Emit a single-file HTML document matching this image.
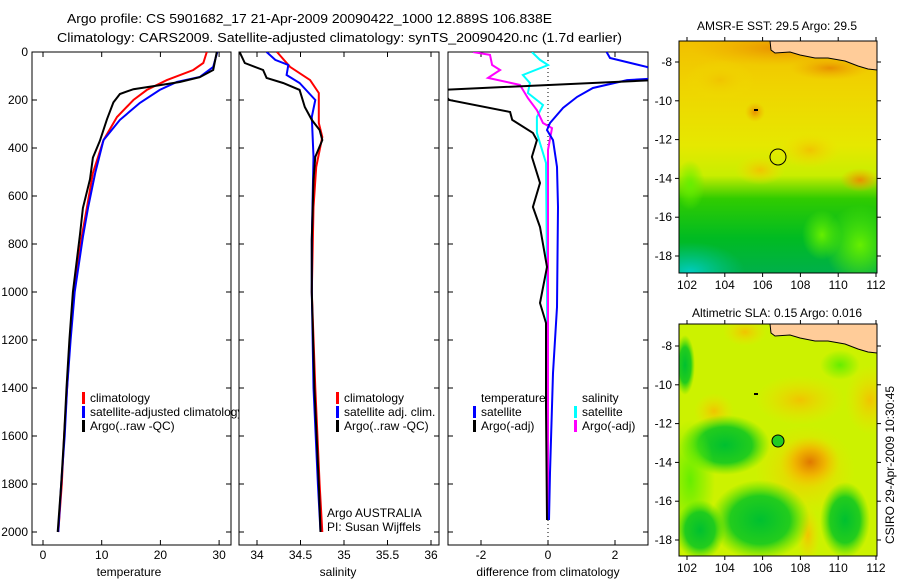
<!DOCTYPE html>
<html><head><meta charset="utf-8">
<style>
html,body{margin:0;padding:0;background:#fff;}
svg{display:block;font-family:"Liberation Sans",sans-serif;}
</style></head>
<body>
<svg id="fig" width="900" height="580" viewBox="0 0 900 580" xmlns="http://www.w3.org/2000/svg">
<defs>
  <clipPath id="c1"><rect x="32" y="52" width="199" height="493"/></clipPath>
  <clipPath id="c2"><rect x="239" y="52" width="200" height="493"/></clipPath>
  <clipPath id="c3"><rect x="448" y="52" width="200" height="494"/></clipPath>
  <clipPath id="cl1"><rect x="32" y="52" width="207" height="493"/></clipPath>
  <clipPath id="cm1"><rect x="679" y="41" width="198" height="232"/></clipPath>
  <clipPath id="cm2"><rect x="679" y="324" width="198" height="232"/></clipPath>
  <linearGradient id="sstbase" x1="0" y1="0" x2="0" y2="1">
    <stop offset="0" stop-color="#f2c000"/>
    <stop offset="0.2" stop-color="#efd400"/>
    <stop offset="0.45" stop-color="#e6e800"/>
    <stop offset="0.58" stop-color="#c8ee00"/>
    <stop offset="0.68" stop-color="#30cc00"/>
    <stop offset="0.85" stop-color="#00bb22"/>
    <stop offset="1" stop-color="#00b04a"/>
  </linearGradient>
  <radialGradient id="gcyan"><stop offset="0" stop-color="#00ccc0"/><stop offset="1" stop-color="#00c890" stop-opacity="0"/></radialGradient>
  <radialGradient id="glime"><stop offset="0" stop-color="#66ee00"/><stop offset="1" stop-color="#66ee00" stop-opacity="0"/></radialGradient>
  <radialGradient id="ggreen"><stop offset="0" stop-color="#00c030"/><stop offset="0.6" stop-color="#10c820" stop-opacity="0.9"/><stop offset="1" stop-color="#40dd00" stop-opacity="0"/></radialGradient>
  <radialGradient id="gorange"><stop offset="0" stop-color="#e07800"/><stop offset="0.5" stop-color="#f0b000" stop-opacity="0.9"/><stop offset="1" stop-color="#f0d000" stop-opacity="0"/></radialGradient>
  <radialGradient id="gyell"><stop offset="0" stop-color="#f0c400"/><stop offset="1" stop-color="#eee000" stop-opacity="0"/></radialGradient>
  <radialGradient id="gor2"><stop offset="0" stop-color="#e89000"/><stop offset="1" stop-color="#f0b000" stop-opacity="0"/></radialGradient>
</defs>

<text x="67" y="23" font-size="13" textLength="485" lengthAdjust="spacingAndGlyphs">Argo profile: CS 5901682_17 21-Apr-2009 20090422_1000 12.889S 106.838E</text>
<text x="57" y="42" font-size="13" textLength="565" lengthAdjust="spacingAndGlyphs">Climatology: CARS2009. Satellite-adjusted climatology: synTS_20090420.nc (1.7d earlier)</text>

<g id="panels"></g>

<!-- SST map -->
<g>
  <text x="777" y="30" font-size="12" text-anchor="middle">AMSR-E SST: 29.5 Argo: 29.5</text>
  <g clip-path="url(#cm1)">
    <rect x="679" y="41" width="198" height="232" fill="url(#sstbase)"/>
    <ellipse cx="690" cy="272" rx="55" ry="30" fill="url(#gcyan)"/>
    <ellipse cx="860" cy="245" rx="35" ry="40" fill="url(#glime)"/>
    <ellipse cx="822" cy="235" rx="20" ry="25" fill="url(#glime)"/>
    <ellipse cx="690" cy="185" rx="15" ry="25" fill="url(#glime)"/>
    <ellipse cx="780" cy="48" rx="90" ry="18" fill="url(#gor2)"/>
    <ellipse cx="830" cy="68" rx="40" ry="12" fill="url(#gor2)"/>
    <ellipse cx="860" cy="180" rx="20" ry="12" fill="url(#gor2)"/>
    <ellipse cx="720" cy="80" rx="35" ry="20" fill="url(#gyell)"/>
    <ellipse cx="755" cy="112" rx="10" ry="10" fill="url(#gor2)"/>
    <ellipse cx="760" cy="170" rx="25" ry="15" fill="url(#gyell)"/>
    <ellipse cx="810" cy="150" rx="30" ry="18" fill="url(#gyell)"/>
    <polygon points="770,41 771,50 775,53 790,52 800,55 815,58 828,58 845,61 858,66 868,69 877,70 877,41" fill="#ffcc99" stroke="#000" stroke-width="1"/>
    <rect x="754" y="109" width="4" height="2" fill="#000"/>
  </g>
  <rect x="679" y="41" width="198" height="232" fill="none" stroke="#000" stroke-width="1"/>
  <circle cx="778" cy="157" r="8" fill="none" stroke="#000" stroke-width="1"/>
  <g id="sstaxes"></g>
</g>

<!-- SLA map -->
<g>
  <text x="777" y="317" font-size="12" text-anchor="middle">Altimetric SLA: 0.15 Argo: 0.016</text>
  <g clip-path="url(#cm2)">
    <rect x="679" y="324" width="198" height="232" fill="#ccf200"/>
    <ellipse cx="745" cy="332" rx="22" ry="14" fill="url(#gyell)"/>
    <ellipse cx="714" cy="411" rx="20" ry="18" fill="url(#gyell)"/>
    <ellipse cx="800" cy="400" rx="45" ry="25" fill="url(#gyell)"/>
    <ellipse cx="870" cy="400" rx="25" ry="35" fill="url(#gyell)"/>
    <ellipse cx="805" cy="470" rx="50" ry="45" fill="url(#gyell)"/>
    <ellipse cx="810" cy="462" rx="30" ry="26" fill="url(#gorange)"/>
    <ellipse cx="808" cy="535" rx="12" ry="30" fill="url(#gyell)"/>
    <ellipse cx="725" cy="445" rx="45" ry="30" fill="url(#ggreen)"/>
    <ellipse cx="690" cy="480" rx="25" ry="60" fill="url(#glime)"/>
    <ellipse cx="760" cy="520" rx="50" ry="40" fill="url(#ggreen)"/>
    <ellipse cx="700" cy="530" rx="25" ry="30" fill="url(#ggreen)"/>
    <ellipse cx="845" cy="520" rx="25" ry="38" fill="url(#ggreen)"/>
    <ellipse cx="685" cy="365" rx="10" ry="30" fill="url(#ggreen)"/>
    <ellipse cx="840" cy="365" rx="20" ry="15" fill="url(#glime)"/>
    <polygon points="770,324 771,333 775,336 790,335 800,338 815,341 828,341 845,344 858,349 868,352 877,353 877,324" fill="#ffcc99" stroke="#000" stroke-width="1"/>
    <rect x="754" y="393" width="4" height="2" fill="#000"/>
  </g>
  <rect x="679" y="324" width="198" height="232" fill="none" stroke="#000" stroke-width="1"/>
  <circle cx="778" cy="441" r="6" fill="#22cc22" stroke="#000" stroke-width="1"/>
  <g id="slaaxes"></g>
</g>
<text x="0" y="0" font-size="12" text-anchor="middle" transform="translate(894,465) rotate(-90)">CSIRO 29-Apr-2009 10:30:45</text>
</svg>

<script>
// ---- data ----
const tempDepth = [0, 50, 75, 105, 125, 140, 155, 175, 210, 280, 370, 440, 530, 650, 760, 1000, 1200, 1400, 1600, 1800, 2000];
const tempArgo  = [29.6, 29.2, 29.0, 26.7, 23.3, 19.4, 15.4, 13.1, 12.0, 10.9, 9.7, 8.5, 8.0, 6.8, 6.3, 5.1, 4.5, 4.0, 3.6, 3.1, 2.5];
const tempClimDepth = [0, 46, 75, 117, 158, 200, 271, 367, 504, 646, 771, 1000, 1200, 1400, 1600, 1800, 2000];
const tempClim  = [27.9, 27.3, 25.6, 21.1, 17.7, 15.4, 12.6, 10.3, 8.5, 7.5, 6.6, 5.3, 4.6, 4.1, 3.6, 3.2, 2.6];
const tempSat   = [29.7, 29.0, 26.7, 22.8, 19.9, 16.5, 13.1, 10.3, 8.9, 7.7, 6.8, 5.4, 4.7, 4.1, 3.7, 3.1, 2.6];
const tempSatDepth = [0, 62, 104, 125, 158, 212, 283, 367, 504, 646, 771, 1000, 1200, 1400, 1600, 1800, 2000];

const salArgoDepth = [0, 46, 75, 108, 129, 158, 229, 283, 325, 367, 437, 533, 783, 1000, 1400, 1800, 2000];
const salArgo = [33.80, 33.86, 34.07, 34.11, 34.30, 34.49, 34.55, 34.63, 34.72, 34.75, 34.67, 34.65, 34.63, 34.63, 34.66, 34.71, 34.73];
const salClimDepth = [0, 62, 117, 171, 296, 354, 479, 646, 1000, 1400, 1800, 2000];
const salClim = [34.23, 34.38, 34.61, 34.71, 34.71, 34.75, 34.68, 34.65, 34.63, 34.67, 34.72, 34.75];
const salSatDepth = [0, 33, 54, 96, 129, 200, 271, 437, 783, 1000, 1400, 1800, 2000];
const salSat = [34.11, 34.21, 34.36, 34.34, 34.49, 34.67, 34.63, 34.65, 34.63, 34.63, 34.65, 34.70, 34.73];

const dTSatDepth = [0, 25, 62, 108, 117, 150, 187, 233, 296, 325, 367, 479, 646, 1063, 1338, 1754, 1950];
const dTSat = [1.75, 1.85, 2.95, 3.5, 2.36, 1.34, 0.87, 0.45, 0.06, -0.03, 0.15, 0.27, 0.30, 0.27, 0.15, 0.06, 0.03];
const dTArgoDepth = [0, 100, 117, 158, 200, 250, 283, 337, 367, 437, 546, 646, 729, 896, 1046, 1129, 1479, 1950];
const dTArgo = [4.0, 4.0, 3.2, -3.2, -2.95, -1.13, -1.07, -0.45, -0.33, -0.48, -0.24, -0.45, -0.24, -0.03, -0.24, -0.06, -0.06, -0.03];
const dSSatDepth = [0, 33, 54, 96, 129, 171, 221, 271, 337, 462, 921, 1950];
const dSSat = [-0.48, -0.24, 0.0, -0.75, -0.54, -0.60, -0.15, -0.33, -0.33, -0.06, -0.03, -0.02];
const dSArgoDepth = [0, 12, 54, 75, 108, 137, 192, 242, 296, 317, 408, 783, 1950];
const dSArgo = [-2.24, -1.73, -1.67, -1.43, -1.79, -0.84, -0.60, -0.33, -0.15, 0.12, 0.0, 0.0, 0.0];

const depthTicks = [0, 200, 400, 600, 800, 1000, 1200, 1400, 1600, 1800, 2000];
const tempTicks = [0, 10, 20, 30];
const salTicks = [34, 34.5, 35, 35.5, 36];
const salTickLabels = ["34", "34.5", "35", "35.5", "36"];
const diffTicks = [-2, 0, 2];
const lonTicks = [102, 104, 106, 108, 110, 112];
const latTicks = [-8, -10, -12, -14, -16, -18];

// ---- scales ----
const NS = "http://www.w3.org/2000/svg";
const yD = d => 52 + d * 0.24;
const xT = t => 43 + t * 5.87;
const xS = s => 257 + (s - 34) * 87;
const xDf = v => 548 + v * 33.5;
const xLon = l => 687 + (l - 102) * 18.9;
const yLat1 = l => 62 + (-8 - l) * 19.4;
const yLat2 = l => 346 + (-8 - l) * 19.4;

function mk(tag, attrs, parent) {
  const e = document.createElementNS(NS, tag);
  for (const k in attrs) e.setAttribute(k, attrs[k]);
  parent.appendChild(e);
  return e;
}
const root = document.getElementById('panels');

function drawLine(vals, depths, xf, color, clip, name) {
  const pts = vals.map((v, i) => xf(v).toFixed(1) + ',' + yD(depths[i]).toFixed(1)).join(' ');
  const p = mk('polyline', {points: pts, fill: 'none', stroke: color, 'stroke-width': 2, 'clip-path': 'url(#' + clip + ')'}, root);
  
  
}

function frame(x, w, name, ticksX, xf, labels, xlabel, xlabelX, leftLabels) {
  const r = mk('rect', {x: x, y: 52, width: w, height: 493, fill: 'none', stroke: '#000', 'stroke-width': 1}, root);
  
  
  depthTicks.forEach(d => {
    mk('line', {x1: x, x2: x + 5, y1: yD(d), y2: yD(d), stroke: '#000'}, root);
    mk('line', {x1: x + w - 5, x2: x + w, y1: yD(d), y2: yD(d), stroke: '#000'}, root);
    if (leftLabels) {
      const t = mk('text', {x: 28, y: yD(d) + 4, 'font-size': 12, 'text-anchor': 'end'}, root);
      t.textContent = d;
      
      
    }
  });
  ticksX.forEach((v, i) => {
    mk('line', {x1: xf(v), x2: xf(v), y1: 545, y2: 540, stroke: '#000'}, root);
    mk('line', {x1: xf(v), x2: xf(v), y1: 52, y2: 57, stroke: '#000'}, root);
    const t = mk('text', {x: xf(v), y: 559, 'font-size': 12, 'text-anchor': 'middle'}, root);
    t.textContent = labels[i];
    
    
  });
  const xl = mk('text', {x: xlabelX, y: 576, 'font-size': 12, 'text-anchor': 'middle'}, root);
  xl.textContent = xlabel;
  
  
}

function legendEntry(x, y, color, label, clip) {
  if (color) {
    const b = mk('rect', {x: x - 8, y: y - 10, width: 3, height: 12, fill: color}, root);
    
    
  }
  const attrs = {x: x, y: y, 'font-size': 12};
  if (clip) attrs['clip-path'] = 'url(#' + clip + ')';
  const t = mk('text', attrs, root);
  t.textContent = label;
  
  
}

// panel 1 temperature
frame(32, 199, 'temperature-panel', tempTicks, xT, tempTicks.map(String), 'temperature', 129, true);
drawLine(tempClim, tempClimDepth, xT, '#ff0000', 'c1', 'temp-climatology-line');
drawLine(tempSat, tempSatDepth, xT, '#0000ff', 'c1', 'temp-satellite-line');
drawLine(tempArgo, tempDepth, xT, '#000000', 'c1', 'temp-argo-line');
legendEntry(90, 402, '#ff0000', 'climatology');
legendEntry(90, 416, '#0000ff', 'satellite-adjusted climatology', 'cl1');
legendEntry(90, 430, '#000000', 'Argo(..raw -QC)');

// panel 2 salinity
frame(239, 200, 'salinity-panel', salTicks, xS, salTickLabels, 'salinity', 338, false);
drawLine(salClim, salClimDepth, xS, '#ff0000', 'c2', 'sal-climatology-line');
drawLine(salSat, salSatDepth, xS, '#0000ff', 'c2', 'sal-satellite-line');
drawLine(salArgo, salArgoDepth, xS, '#000000', 'c2', 'sal-argo-line');
legendEntry(344, 402, '#ff0000', 'climatology');
legendEntry(344, 416, '#0000ff', 'satellite adj. clim.');
legendEntry(344, 430, '#000000', 'Argo(..raw -QC)');
legendEntry(327, 517, null, 'Argo AUSTRALIA');
legendEntry(327, 531, null, 'PI: Susan Wijffels');

// panel 3 difference
frame(448, 200, 'difference-panel', diffTicks, xDf, diffTicks.map(String), 'difference from climatology', 548, false);
const zl = mk('line', {x1: xDf(0), x2: xDf(0), y1: 52, y2: 545, stroke: '#000', 'stroke-dasharray': '1,3'}, root);


drawLine(dSSat, dSSatDepth, xDf, '#00ffff', 'c3', 'diff-sal-satellite-line');
drawLine(dSArgo, dSArgoDepth, xDf, '#ff00ff', 'c3', 'diff-sal-argo-line');
drawLine(dTSat, dTSatDepth, xDf, '#0000ff', 'c3', 'diff-temp-satellite-line');
drawLine(dTArgo, dTArgoDepth, xDf, '#000000', 'c3', 'diff-temp-argo-line');
legendEntry(481, 402, null, 'temperature');
legendEntry(481, 416, '#0000ff', 'satellite');
legendEntry(481, 430, '#000000', 'Argo(-adj)');
legendEntry(582, 402, null, 'salinity');
legendEntry(582, 416, '#00ffff', 'satellite');
legendEntry(582, 430, '#ff00ff', 'Argo(-adj)');

// map axes
function mapAxes(gid, yLat, top, bottom) {
  const g = document.getElementById(gid);
  lonTicks.forEach(l => {
    mk('line', {x1: xLon(l), x2: xLon(l), y1: bottom, y2: bottom + 4, stroke: '#000'}, g);
    mk('line', {x1: xLon(l), x2: xLon(l), y1: top, y2: top - 4, stroke: '#000'}, g);
    const t = mk('text', {x: xLon(l), y: bottom + 16, 'font-size': 12, 'text-anchor': 'middle'}, g);
    t.textContent = l;
    
    
  });
  latTicks.forEach(l => {
    mk('line', {x1: 679, x2: 675, y1: yLat(l), y2: yLat(l), stroke: '#000'}, g);
    mk('line', {x1: 877, x2: 881, y1: yLat(l), y2: yLat(l), stroke: '#000'}, g);
    const t = mk('text', {x: 672, y: yLat(l) + 4, 'font-size': 12, 'text-anchor': 'end'}, g);
    t.textContent = l;
    
    
  });
}
mapAxes('sstaxes', yLat1, 41, 273);
mapAxes('slaaxes', yLat2, 324, 556);
</script>
</body></html>
